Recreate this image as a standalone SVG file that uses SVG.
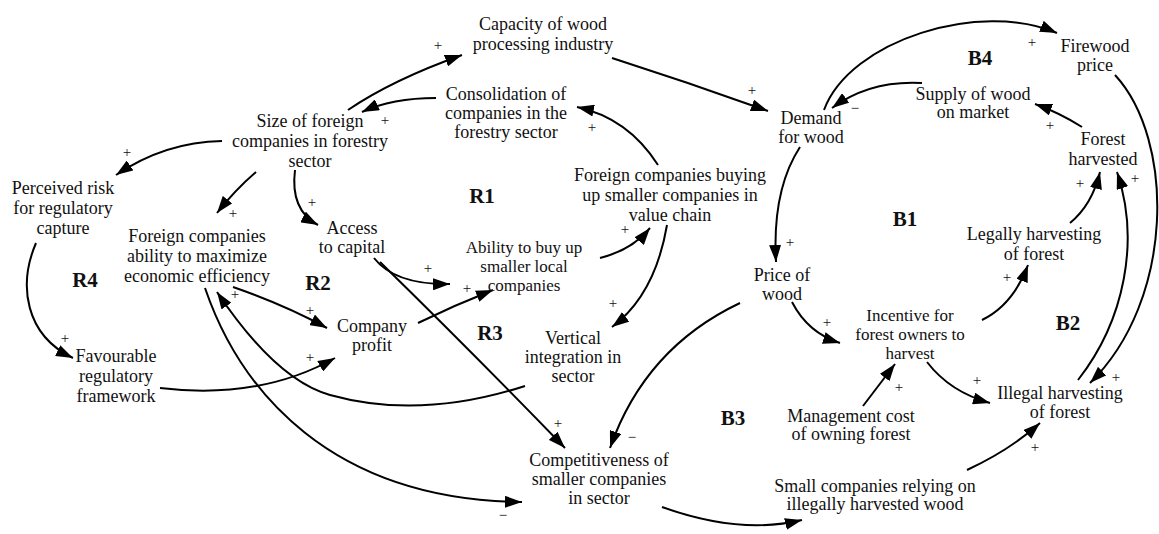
<svg xmlns="http://www.w3.org/2000/svg" width="1159" height="534" viewBox="0 0 1159 534">
<style>
.n{font-family:"Liberation Serif","Times New Roman",serif;font-size:18px;fill:#111;text-anchor:middle}
.s{font-size:17px}
.l{font-family:"Liberation Serif","Times New Roman",serif;font-size:21px;font-weight:bold;fill:#111;text-anchor:middle}
.p{font-family:"Liberation Serif","Times New Roman",serif;font-size:15px;fill:#111;text-anchor:middle}
.c path{fill:none;stroke:#000;stroke-width:2;marker-end:url(#ah)}
</style>
<defs>
<marker id="ah" markerUnits="userSpaceOnUse" markerWidth="18" markerHeight="12" refX="17" refY="6" orient="auto">
<path d="M0,0 L17,6 L0,12 z" fill="#000"/>
</marker>
</defs>
<rect width="1159" height="534" fill="#fff"/>
<g class="c" id="connectors">
<path d="M348,110 Q392,80 462,55"/>
<path d="M612,58 Q690,83 768,111"/>
<path d="M436,98 Q392,98 362,112"/>
<path d="M658,165 Q628,118 577,107"/>
<path d="M222,141 Q165,142 116,175"/>
<path d="M256,172 Q235,190 217,213"/>
<path d="M295,170 Q290,210 318,225"/>
<path d="M36,243 C18,285 25,335 73,358"/>
<path d="M160,388 Q260,400 335,358"/>
<path d="M233,287 Q285,305 327,328"/>
<path d="M525,386 Q420,420 330,395 Q276,380 217,292"/>
<path d="M205,288 C240,390 330,500 522,502"/>
<path d="M374,258 Q395,285 450,284"/>
<path d="M380,262 Q470,350 565,448"/>
<path d="M418,323 Q455,305 493,290"/>
<path d="M600,258 Q632,250 650,228"/>
<path d="M667,225 Q655,295 612,327"/>
<path d="M740,303 Q645,348 610,448"/>
<path d="M800,147 Q772,190 776,262"/>
<path d="M824,110 C850,40 980,0 1057,33"/>
<path d="M922,83 Q870,80 832,108"/>
<path d="M1082,127 Q1060,113 1035,104"/>
<path d="M1115,75 C1175,140 1175,300 1090,383"/>
<path d="M1078,380 C1125,320 1140,240 1117,172"/>
<path d="M1070,223 Q1092,205 1100,172"/>
<path d="M792,302 Q808,333 840,343"/>
<path d="M982,320 Q1013,305 1028,265"/>
<path d="M863,406 L895,364"/>
<path d="M927,362 Q950,392 990,403"/>
<path d="M967,470 Q1010,450 1040,423"/>
<path d="M662,507 Q740,535 802,520"/>
</g>
<g id="polarities">
<text class="p" x="438" y="50">+</text>
<text class="p" x="752" y="95">+</text>
<text class="p" x="385" y="125">+</text>
<text class="p" x="592" y="132">+</text>
<text class="p" x="127" y="157">+</text>
<text class="p" x="233" y="218">+</text>
<text class="p" x="312" y="207">+</text>
<text class="p" x="65" y="343">+</text>
<text class="p" x="310" y="362">+</text>
<text class="p" x="310" y="315">+</text>
<text class="p" x="235" y="299">+</text>
<text class="p" x="503" y="520">−</text>
<text class="p" x="428" y="273">+</text>
<text class="p" x="558" y="428">+</text>
<text class="p" x="467" y="293">+</text>
<text class="p" x="625" y="234">+</text>
<text class="p" x="613" y="308">+</text>
<text class="p" x="632" y="442">−</text>
<text class="p" x="790" y="247">+</text>
<text class="p" x="1032" y="47">+</text>
<text class="p" x="855" y="113">−</text>
<text class="p" x="1050" y="130">+</text>
<text class="p" x="1116" y="382">+</text>
<text class="p" x="1135" y="183">+</text>
<text class="p" x="1080" y="188">+</text>
<text class="p" x="827" y="327">+</text>
<text class="p" x="1007" y="282">+</text>
<text class="p" x="899" y="392">+</text>
<text class="p" x="977" y="385">+</text>
<text class="p" x="1035" y="452">+</text>
</g>
<g id="loops">
<text class="l" x="482" y="203">R1</text>
<text class="l" x="318" y="290">R2</text>
<text class="l" x="490" y="340">R3</text>
<text class="l" x="85" y="287">R4</text>
<text class="l" x="905" y="226">B1</text>
<text class="l" x="1068" y="330">B2</text>
<text class="l" x="733" y="425">B3</text>
<text class="l" x="980" y="65">B4</text>
</g>
<g id="n-capacity"><text class="n"><tspan x="543" y="30">Capacity of wood</tspan><tspan x="543" y="50">processing industry</tspan></text></g>
<g id="n-size"><text class="n"><tspan x="310" y="127">Size of foreign</tspan><tspan x="310" y="147">companies in forestry</tspan><tspan x="310" y="167">sector</tspan></text></g>
<g id="n-consolidation"><text class="n"><tspan x="506" y="100">Consolidation of</tspan><tspan x="506" y="119">companies in the</tspan><tspan x="506" y="138">forestry sector</tspan></text></g>
<g id="n-demand"><text class="n"><tspan x="811" y="124">Demand</tspan><tspan x="811" y="143">for wood</tspan></text></g>
<g id="n-supply"><text class="n"><tspan x="973" y="100">Supply of wood</tspan><tspan x="973" y="118">on market</tspan></text></g>
<g id="n-firewood"><text class="n"><tspan x="1095" y="52">Firewood</tspan><tspan x="1095" y="71">price</tspan></text></g>
<g id="n-forest-harvested"><text class="n"><tspan x="1103" y="145">Forest</tspan><tspan x="1103" y="165">harvested</tspan></text></g>
<g id="n-perceived"><text class="n"><tspan x="63" y="194">Perceived risk</tspan><tspan x="63" y="214">for regulatory</tspan><tspan x="63" y="234">capture</tspan></text></g>
<g id="n-foreign-ability"><text class="n"><tspan x="197" y="242">Foreign companies</tspan><tspan x="197" y="262">ability to maximize</tspan><tspan x="197" y="282">economic efficiency</tspan></text></g>
<g id="n-access"><text class="n"><tspan x="352" y="234">Access</tspan><tspan x="352" y="253">to capital</tspan></text></g>
<g id="n-foreign-buying"><text class="n"><tspan x="670" y="181">Foreign companies buying</tspan><tspan x="670" y="201">up smaller companies in</tspan><tspan x="670" y="221">value chain</tspan></text></g>
<g id="n-ability"><text class="n s"><tspan x="524" y="253">Ability to buy up</tspan><tspan x="524" y="272">smaller local</tspan><tspan x="524" y="291">companies</tspan></text></g>
<g id="n-vertical"><text class="n"><tspan x="573" y="344">Vertical</tspan><tspan x="573" y="363">integration in</tspan><tspan x="573" y="382">sector</tspan></text></g>
<g id="n-profit"><text class="n"><tspan x="372" y="332">Company</tspan><tspan x="372" y="351">profit</tspan></text></g>
<g id="n-favourable"><text class="n"><tspan x="116" y="362">Favourable</tspan><tspan x="116" y="382">regulatory</tspan><tspan x="116" y="402">framework</tspan></text></g>
<g id="n-price"><text class="n"><tspan x="782" y="281">Price of</tspan><tspan x="782" y="300">wood</tspan></text></g>
<g id="n-legally"><text class="n"><tspan x="1034" y="240">Legally harvesting</tspan><tspan x="1034" y="260">of forest</tspan></text></g>
<g id="n-incentive"><text class="n s"><tspan x="910" y="321">Incentive for</tspan><tspan x="910" y="340">forest owners to</tspan><tspan x="910" y="359">harvest</tspan></text></g>
<g id="n-management"><text class="n"><tspan x="851" y="422">Management cost</tspan><tspan x="851" y="440">of owning forest</tspan></text></g>
<g id="n-illegal"><text class="n"><tspan x="1060" y="399">Illegal harvesting</tspan><tspan x="1060" y="418">of forest</tspan></text></g>
<g id="n-small"><text class="n"><tspan x="875" y="492">Small companies relying on</tspan><tspan x="875" y="510">illegally harvested wood</tspan></text></g>
<g id="n-competitiveness"><text class="n"><tspan x="599" y="466">Competitiveness of</tspan><tspan x="599" y="485">smaller companies</tspan><tspan x="599" y="504">in sector</tspan></text></g>
</svg>
